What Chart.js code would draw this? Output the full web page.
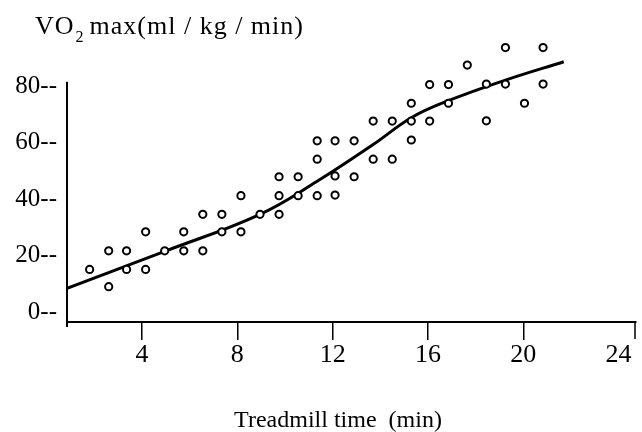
<!DOCTYPE html>
<html>
<head>
<meta charset="utf-8">
<script src="https://cdn.jsdelivr.net/npm/chart.js@4.4.1/dist/chart.umd.min.js"></script>
<style>
  body { margin: 0; background: #fff; }
  canvas { display: block; }
</style>
</head>
<body>
<canvas id="chart" width="642" height="432"></canvas>
<script>
// measured points (treadmill time, VO2 max)
const pointX = [1.8, 2.6, 2.6, 3.35, 3.35, 4.15, 4.15, 4.95, 5.75, 5.75, 6.55, 6.55, 7.35, 7.35,
                8.15, 8.15, 8.95, 9.75, 9.75, 9.75, 10.55, 10.55, 11.35, 11.35, 11.35, 12.1, 12.1,
                12.1, 12.9, 12.9, 13.7, 13.7, 14.5, 14.5, 15.3, 15.3, 15.3, 16.07, 16.07, 16.86,
                16.86, 17.65, 18.45, 18.45, 19.25, 19.25, 20.05, 20.83, 20.83];
const pointY = [15.1, 21.7, 9.0, 21.7, 15.1, 28.4, 15.1, 21.7, 28.4, 21.7, 34.6, 21.7, 34.6, 28.4,
                41.2, 28.4, 34.6, 47.9, 41.2, 34.6, 47.9, 41.2, 60.6, 54.1, 41.2, 60.6, 48.2,
                41.4, 60.6, 47.9, 67.6, 54.1, 67.6, 54.1, 73.9, 67.6, 60.9, 80.5, 67.6, 80.5,
                73.9, 87.4, 80.7, 67.7, 93.6, 80.7, 73.9, 93.6, 80.7];

// fitted curve
const curveX = [0.85, 4.95, 8.95, 11.35, 13.7, 15.3, 16.85, 19.25, 21.7];
const curveY = [8.4, 21.5, 34.6, 46.3, 59.3, 68.8, 74.8, 82.1, 88.6];

const xTicks = [4, 8, 12, 16, 20, 24];
const yTicks = [0, 20, 40, 60, 80];

const FONT = "'Liberation Serif', 'Times New Roman', serif";

function pairs (xs, ys)
{
   let out = new Array ();
   for (let i = 0; i < xs.length; i++)
       out.push ({ x: xs [i], y: ys [i] });
   return out;
}

// hand-drawn style axes, heading and axis caption
const axesPlugin = {
   id: 'axes',
   afterDraw (chart)
   {
      const ctx = chart.ctx, ys = chart.scales.y, a = chart.chartArea;
      ctx.save ();
      ctx.strokeStyle = '#000';
      ctx.lineWidth = 2;
      // y axis stops just above 80
      ctx.beginPath ();
      ctx.moveTo (a.left, ys.getPixelForValue (81.5));
      ctx.lineTo (a.left, a.bottom + 5);
      ctx.stroke ();
      // closing tick at the right end
      ctx.lineWidth = 1.5;
      ctx.beginPath ();
      ctx.moveTo (a.right - 1, a.bottom);
      ctx.lineTo (a.right - 1, a.bottom + 17);
      ctx.stroke ();

      // heading: VO2 max(ml / kg / min)
      ctx.fillStyle = '#000';
      ctx.textBaseline = 'alphabetic';
      ctx.letterSpacing = '1px';
      ctx.font = '26px ' + FONT;
      let x = 35, base = 34;
      ctx.fillText ('VO', x, base);
      x += ctx.measureText ('VO').width + 1;
      ctx.font = '16px ' + FONT;
      ctx.fillText ('2', x, base + 8);
      x += ctx.measureText ('2').width + 5;
      ctx.font = '26px ' + FONT;
      ctx.fillText ('max(ml / kg / min)', x, base);

      // x axis caption
      ctx.letterSpacing = '0px';
      ctx.font = '24px ' + FONT;
      ctx.textAlign = 'center';
      ctx.fillText ('Treadmill time  (min)', 338, 427);
      ctx.restore ();
   }
};

new Chart (document.getElementById ('chart'), {
   type: 'scatter',
   data: {
      datasets: [
         {
            label: 'fit',
            data: pairs (curveX, curveY),
            showLine: true,
            borderColor: '#000',
            borderWidth: 3,
            pointRadius: 0,
            tension: 0.4,
            order: 2
         },
         {
            label: 'subjects',
            data: pairs (pointX, pointY),
            showLine: false,
            pointRadius: 3.6,
            pointBorderWidth: 2,
            pointBorderColor: '#000',
            pointBackgroundColor: '#fff',
            order: 1
         }
      ]
   },
   options: {
      responsive: false,
      animation: false,
      devicePixelRatio: 1,
      layout: { padding: { top: 29.5, right: 2, left: 0, bottom: 0 } },
      plugins: { legend: { display: false }, tooltip: { enabled: false } },
      scales: {
         x: {
            type: 'linear',
            min: 0.85,
            max: 24.73,
            afterBuildTicks: (s) => { s.ticks = xTicks.map (v => ({ value: v })); },
            afterFit: (s) => { s.height = 110; },
            border: { display: true, color: '#000', width: 2 },
            grid: { display: true, drawOnChartArea: false, drawTicks: true, tickLength: 18, lineWidth: 1.5,
                    color: (c) => (c.tick && c.tick.value === 24) ? 'rgba(0,0,0,0)' : '#000' },
            ticks: { color: '#000', font: { family: FONT, size: 26 }, padding: 0, maxRotation: 0 }
         },
         y: {
            type: 'linear',
            min: -3.5,
            max: 100,
            afterBuildTicks: (s) => { s.ticks = yTicks.map (v => ({ value: v })); },
            afterFit: (s) => { s.width = 67; },
            border: { display: false },
            grid: { display: false },
            ticks: { color: '#000', font: { family: FONT, size: 25 }, padding: 2,
                     callback: (v) => v + '--' }
         }
      }
   },
   plugins: [axesPlugin]
});
</script>
</body>
</html>
